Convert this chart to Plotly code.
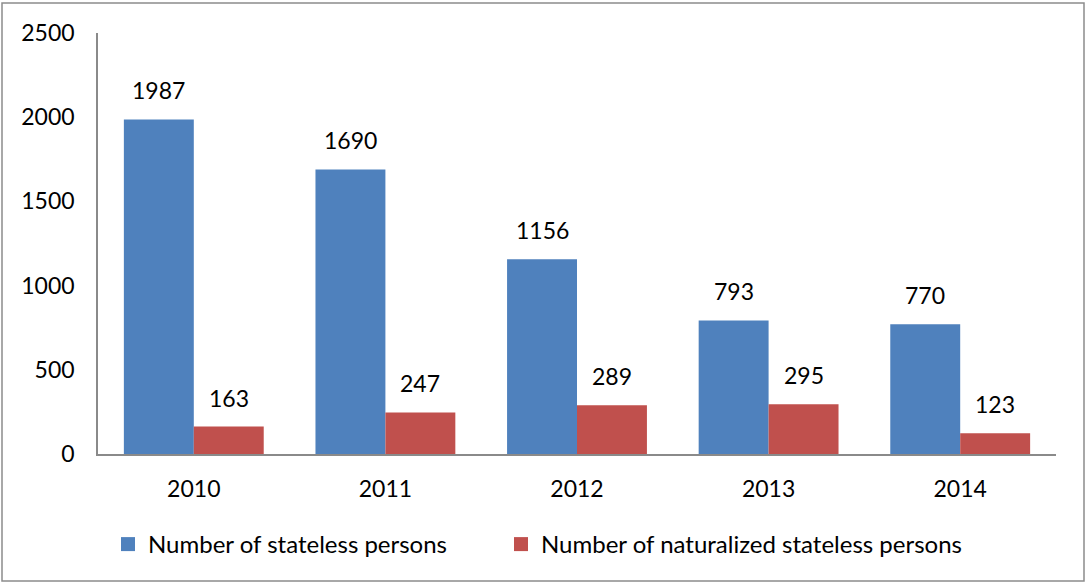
import plotly.graph_objects as go

years = ["2010", "2011", "2012", "2013", "2014"]
stateless = [1987, 1690, 1156, 793, 770]
naturalized = [163, 247, 289, 295, 123]
series_names = ["Number of stateless persons", "Number of naturalized stateless persons"]
y_ticks = [0, 500, 1000, 1500, 2000, 2500]

BLUE = "#4F81BD"
RED = "#C0504D"
FONT = "Lato"
FS = 24
NFS = 23

W, H = 1086, 583
ML, MR, MT, MB = 98, 30, 33, 129
PW = W - ML - MR
PH = H - MT - MB

def px_to_paper_x(px):
    return (px - ML) / PW

def px_to_paper_y(py):
    return (H - MB - py) / PH

fig = go.Figure()
fig.add_trace(go.Bar(x=years, y=stateless, name=series_names[0], marker_color=BLUE,
                     marker_line_width=0, showlegend=False))
fig.add_trace(go.Bar(x=years, y=naturalized, name=series_names[1], marker_color=RED,
                     marker_line_width=0, showlegend=False))
# legend entries with larger square swatches, each in its own legend box
for nm, col, lg in zip(series_names, (BLUE, RED), ("legend", "legend2")):
    fig.add_trace(go.Scatter(x=[None], y=[None], mode="markers", name=nm, legend=lg,
                             marker=dict(symbol="square", size=14, color=col)))

bar_px = PW / len(years) * (1 - 0.27) / 2
annotations = []
for i, yr in enumerate(years):
    for vals, sign in ((stateless, -1), (naturalized, 1)):
        annotations.append(dict(x=i, y=vals[i], xref="x", yref="y", text=str(vals[i]),
                                showarrow=False, yanchor="bottom", xshift=sign * bar_px / 2,
                                yshift=13, font=dict(family=FONT, size=NFS, color="black")))

legend_common = dict(orientation="h", xanchor="left", yanchor="top",
                     font=dict(family=FONT, size=FS, color="black"),
                     itemwidth=30, bgcolor="rgba(0,0,0,0)")

fig.update_layout(
    width=W, height=H,
    margin=dict(l=ML, r=MR, t=MT, b=MB, pad=0),
    paper_bgcolor="white", plot_bgcolor="white",
    barmode="group", bargap=0.27, bargroupgap=0,
    font=dict(family=FONT, size=FS, color="black"),
    showlegend=True,
    legend=dict(x=px_to_paper_x(108), y=px_to_paper_y(522), **legend_common),
    legend2=dict(x=px_to_paper_x(501), y=px_to_paper_y(522), **legend_common),
    annotations=annotations,
    shapes=[dict(type="rect", xref="paper", yref="paper",
                 x0=px_to_paper_x(2), x1=px_to_paper_x(1084),
                 y0=px_to_paper_y(581), y1=px_to_paper_y(3),
                 line=dict(color="#8c8c8c", width=1.5), fillcolor="rgba(0,0,0,0)", layer="below")],
)
fig.update_xaxes(type="category", showline=True, linecolor="#8a8a8a", linewidth=1.5,
                 showgrid=False, ticks="", ticklabelstandoff=14,
                 tickfont=dict(family=FONT, size=NFS))
fig.update_yaxes(showline=True, linecolor="#8a8a8a", linewidth=1.5, showgrid=False,
                 range=[0, 2500], tickvals=y_ticks, ticks="", zeroline=False,
                 ticklabelstandoff=17, tickfont=dict(family=FONT, size=NFS))

fig.write_html("out.html", config={"displayModeBar": False},
               post_script="document.body.style.margin='0';")
